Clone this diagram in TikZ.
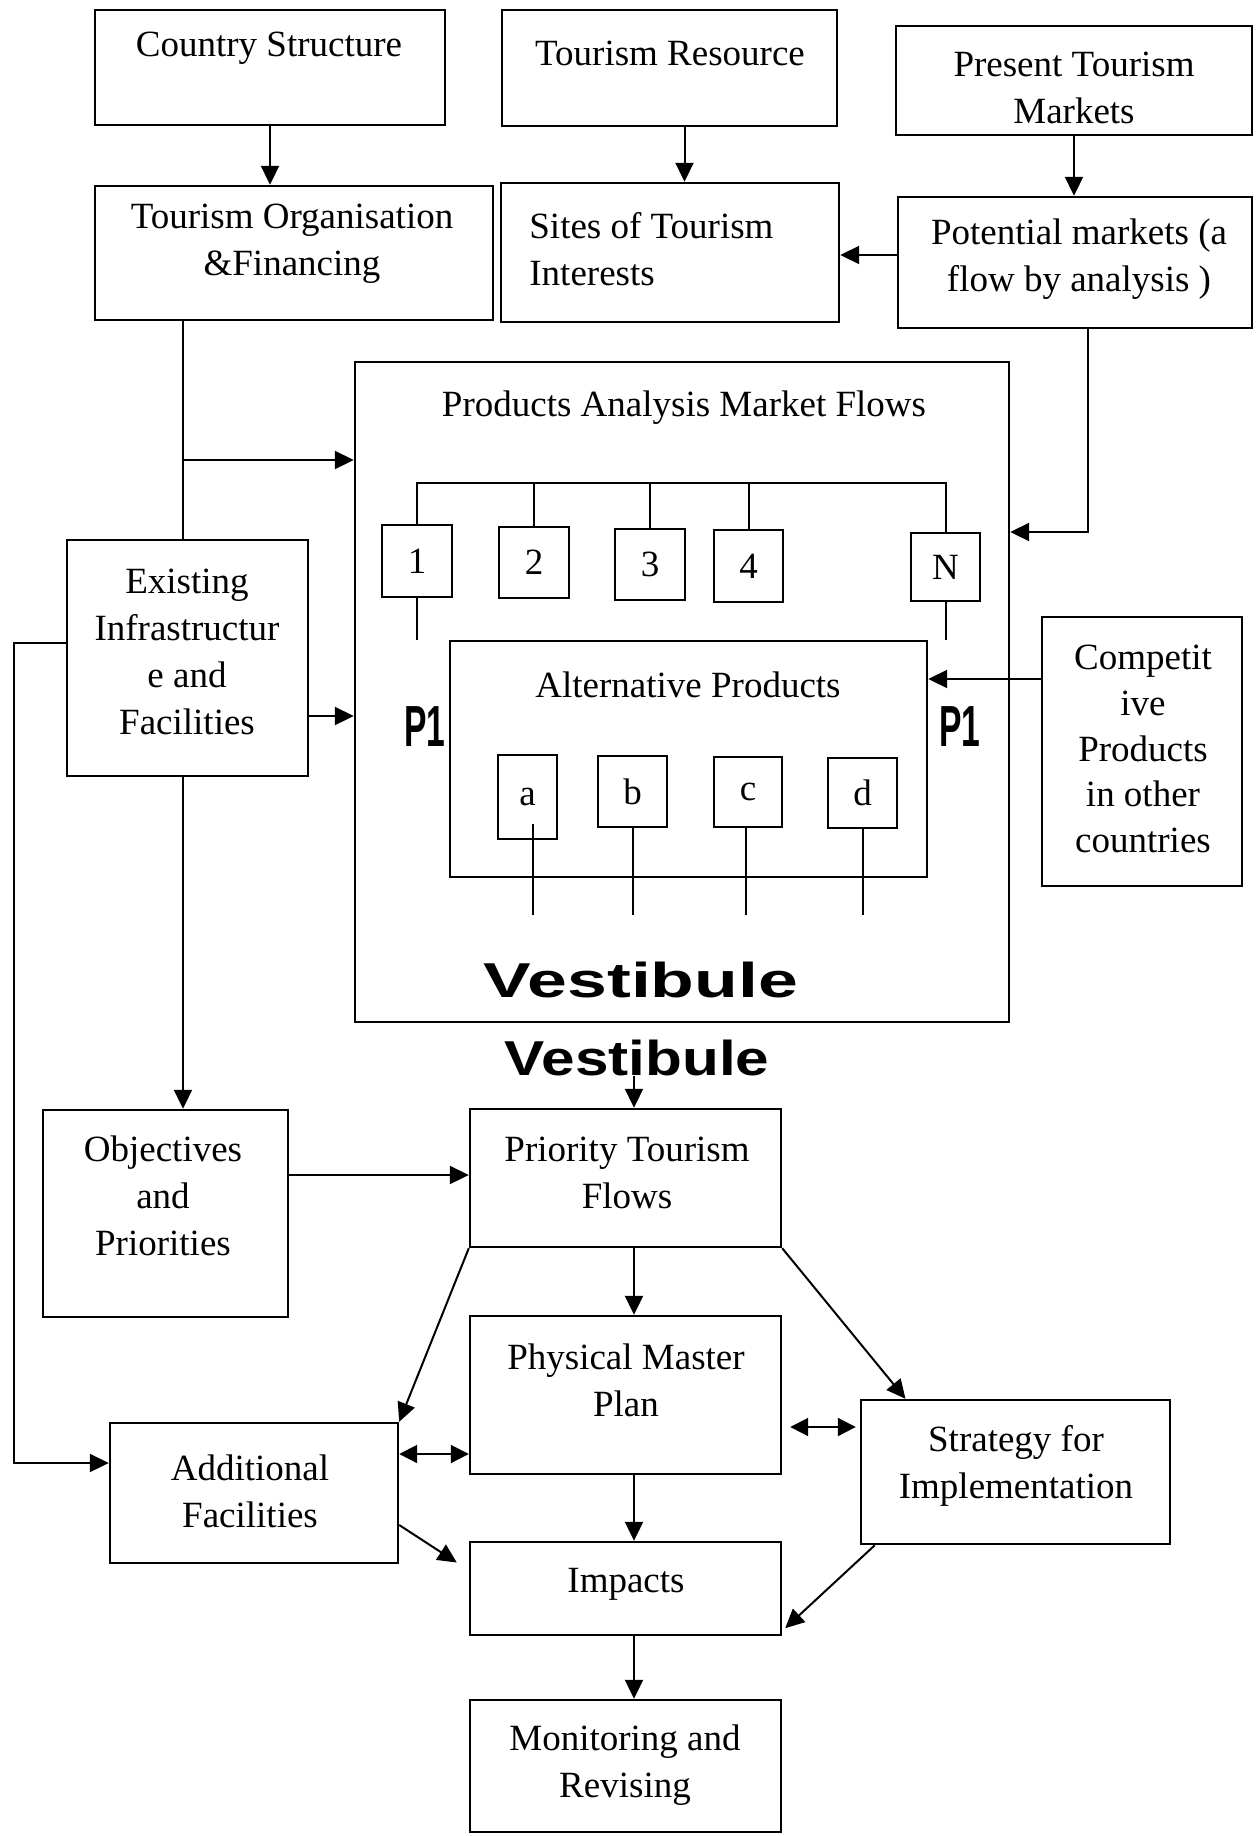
\documentclass[tikz,border=0pt]{standalone}
\usepackage{fontspec}
\setmainfont{Liberation Serif}
\setsansfont{Liberation Sans}
\usetikzlibrary{arrows.meta,fit}
\begin{document}
\begin{tikzpicture}[x=0.5pt,y=-0.5pt,
  box/.style={draw,line width=1.2pt,inner sep=0pt},
  sbox/.style={draw,line width=1.1pt,inner sep=0pt,font=\fontsize{18.5}{22}\selectfont},
  txt/.style={inner sep=0pt,align=center,font=\fontsize{18.5}{23.5}\selectfont},
  big/.style={inner sep=0pt,font=\sffamily\bfseries\fontsize{29}{32}\selectfont},
  ves/.style={inner sep=0pt,font=\sffamily\bfseries\fontsize{24.5}{28}\selectfont},
  con/.style={line width=1pt},
  arr/.style={con,-{Triangle[length=9.5pt,width=9pt]}},
  darr/.style={con,{Triangle[length=9pt,width=9pt]}-{Triangle[length=9pt,width=9pt]}}]
\useasboundingbox[fill=white] (0,0) rectangle (1256,1836);

% ---------- top row ----------
\node[box,fit={(95,10)(445,125)}] (cs) {};
\node[box,fit={(502,10)(837,126)}] (tr) {};
\node[box,fit={(896,26)(1252,135)}] (ptm) {};
\node[txt] (cs-t) at (269,48) {Country Structure};
\node[txt] (tr-t) at (670,53) {Tourism Resource};
\node[txt] (ptm-t) at (1074,88) {Present Tourism\\Markets};

% ---------- second row ----------
\node[box,fit={(95,186)(493,320)}] (to) {};
\node[box,fit={(501,183)(839,322)}] (st) {};
\node[box,fit={(898,197)(1252,328)}] (pm) {};
\node[txt] (to-t) at (292,244) {Tourism Organisation\\\&Financing};
\node[txt,align=left,anchor=west] (st-t) at (529,249) {Sites of Tourism\\Interests};
\node[txt] (pm-t) at (1079,259) {Potential markets (a\\flow by analysis )};

% ---------- products analysis ----------
\node[box,fit={(355,362)(1009,1022)}] (pa) {};
\node[txt] (pa-t) at (684,408) {Products Analysis Market Flows};
\node[sbox,minimum width=35pt,minimum height=36pt] (b1) at (417,561) {1};
\node[sbox,minimum width=35pt,minimum height=35.5pt] (b2) at (534,562.5) {2};
\node[sbox,minimum width=35pt,minimum height=35.5pt] (b3) at (650,564.5) {3};
\node[sbox,minimum width=34.5pt,minimum height=36pt] (b4) at (748.5,566) {4};
\node[sbox,minimum width=34.5pt,minimum height=34pt] (bN) at (945.5,567) {N};
\node[box,fit={(450,641)(927,877)}] (alt) {};
\node[txt] (alt-t) at (688,685) {Alternative Products};
\node[sbox,minimum width=29.5pt,minimum height=42pt] (ba) at (527.5,797) {a};
\node[sbox,minimum width=34.5pt,minimum height=35.5pt] (bb) at (632.5,791.5) {b};
\node[sbox,minimum width=34pt,minimum height=35pt] (bc) at (748,792) {c};
\node[sbox,minimum width=34.5pt,minimum height=35pt] (bd) at (862.5,793) {d};
\node[big] (p1l) at (425,727) {\scalebox{0.58}[1]{P1}};
\node[big] (p1r) at (960,727) {\scalebox{0.58}[1]{P1}};
\node[ves] (vin) at (641,980) {\scalebox{1.46}[1]{Vestibule}};
\node[ves] (vlo) at (637,1058) {\scalebox{1.23}[1]{Vestibule}};

% ---------- side boxes ----------
\node[box,fit={(67,540)(308,776)}] (ex) {};
\node[txt] (ex-t) at (187,652) {Existing\\Infrastructur\\e and\\Facilities};
\node[box,fit={(1042,617)(1242,886)}] (comp) {};
\node[txt,font=\fontsize{18.5}{22.8}\selectfont] (comp-t) at (1143,749) {Competit\\ive\\Products\\in other\\countries};

% ---------- lower part ----------
\node[box,fit={(43,1110)(288,1317)}] (obj) {};
\node[box,fit={(470,1109)(781,1247)}] (prio) {};
\node[box,fit={(470,1316)(781,1474)}] (phys) {};
\node[box,fit={(861,1400)(1170,1544)}] (strat) {};
\node[box,fit={(110,1423)(398,1563)}] (add) {};
\node[box,fit={(470,1542)(781,1635)}] (imp) {};
\node[box,fit={(470,1700)(781,1832)}] (mon) {};
\node[txt] (obj-t) at (163,1196) {Objectives\\and\\Priorities};
\node[txt] (prio-t) at (627,1173) {Priority Tourism\\Flows};
\node[txt] (phys-t) at (626,1380) {Physical Master\\Plan};
\node[txt] (strat-t) at (1016,1466) {Strategy for\\Implementation};
\node[txt] (add-t) at (250,1491) {Additional\\Facilities};
\node[txt] (imp-t) at (626,1584) {Impacts};
\node[txt] (mon-t) at (625,1765) {Monitoring and\\Revising};

% ---------- helper coordinates ----------
\coordinate (j1) at (183,460);
\coordinate (j2) at (1088,532);
\coordinate (bus) at (0,483);
\coordinate (lb) at (0,915);
\coordinate (j5) at (14,643);
\coordinate (j6) at (14,1463);
\coordinate (j7) at (634,0);
\coordinate (k1) at ([yshift=-16pt]phys.east);
\coordinate (k2) at ([yshift=19.5pt]add.east);

% ---------- connectors: top ----------
\draw[arr] (cs.south) -- (cs.south |- to.north);
\draw[arr] ([xshift=7.5pt]tr.south) -- ([xshift=7.5pt]tr.south |- st.north);
\draw[arr] (ptm.south) -- (ptm.south |- pm.north);
\draw[arr] ([yshift=3.75pt]pm.west) -- ([yshift=3.75pt]pm.west -| st.east);
\draw[con] (to.south -| j1) -- (ex.north -| j1);
\draw[arr] (j1) -- (j1 -| pa.west);
\draw[arr] ([yshift=-29pt]ex.east) -- ([yshift=-29pt]ex.east -| pa.west);
\draw[arr] (pm.south -| j2) -- (j2) -- (j2 -| pa.east);
\draw[arr] ([yshift=36.25pt]comp.west) -- ([yshift=36.25pt]comp.west -| alt.east);

% ---------- inside products box ----------
\draw[con] (b1.north) -- (b1.north |- bus) -- (bN.north |- bus) -- (bN.north);
\draw[con] (b2.north) -- (b2.north |- bus);
\draw[con] (b3.north) -- (b3.north |- bus);
\draw[con] (b4.north) -- (b4.north |- bus);
\draw[con] (b1.south) -- (b1.south |- alt.north);
\draw[con] (bN.south) -- (bN.south |- alt.north);
\draw[con] ([xshift=2.5pt,yshift=8pt]ba.south) -- ([xshift=2.5pt]ba.south |- lb);
\draw[con] (bb.south) -- (bb.south |- lb);
\draw[con] ([xshift=-1pt]bc.south) -- ([xshift=-1pt]bc.south |- lb);
\draw[con] (bd.south) -- (bd.south |- lb);

% ---------- connectors: lower ----------
\draw[arr] (ex.south -| j1) -- (obj.north -| j1);
\draw[arr] (ex.west |- j5) -- (j5) -- (j6) -- (j6 -| add.west);
\draw[arr] (vlo.south -| j7) -- (prio.north -| j7);
\draw[arr] ([yshift=19.25pt]obj.east) -- ([yshift=19.25pt]obj.east -| prio.west);
\draw[arr] (prio.south -| j7) -- (phys.north -| j7);
\draw[arr] (prio.south west) -- (add.north east);
\draw[arr] (prio.south east) -- ([xshift=-55pt]strat.north);
\draw[darr,shorten <=4pt,shorten >=2pt] (k1) -- (k1 -| strat.west);
\draw[darr] (k2) -- (k2 -| phys.west);
\draw[arr] (phys.south -| j7) -- (imp.north -| j7);
\draw[arr] ([yshift=-16pt]add.east) -- ([xshift=-6pt,yshift=13pt]imp.west);
\draw[arr] ([xshift=7.5pt]strat.south west) -- ([xshift=1.5pt,yshift=4pt]imp.south east);
\draw[arr] (imp.south -| j7) -- (mon.north -| j7);
\end{tikzpicture}
\end{document}
